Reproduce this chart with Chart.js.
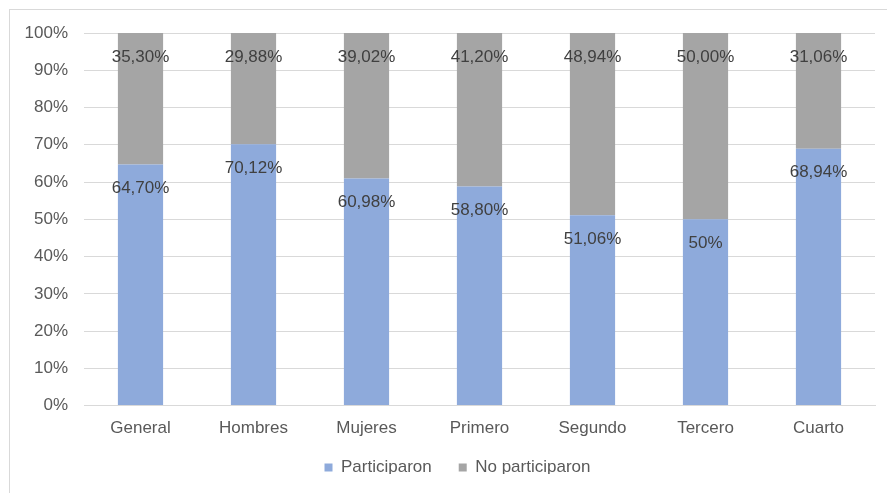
<!DOCTYPE html>
<html lang="es">
<head>
<meta charset="UTF-8">
<title>Participación</title>
<style>
  body { margin: 0; background: #fff; }
  #frame { position: absolute; left: 9px; top: 9px; width: 900px; height: 500px;
           border-left: 1px solid #d9d9d9; border-top: 1px solid #d9d9d9; }
  #chart { position: absolute; left: 0; top: 0; }
</style>
</head>
<body>
<div id="frame"></div>
<canvas id="chart" width="887" height="493"></canvas>
<script src="https://cdn.jsdelivr.net/npm/chart.js@4/dist/chart.umd.min.js"></script>
<script>
const categories = ["General", "Hombres", "Mujeres", "Primero", "Segundo", "Tercero", "Cuarto"];
const participaron = [64.70, 70.12, 60.98, 58.80, 51.06, 50.00, 68.94];
const noParticiparon = [35.30, 29.88, 39.02, 41.20, 48.94, 50.00, 31.06];
const participaronLabels = ["64,70%", "70,12%", "60,98%", "58,80%", "51,06%", "50%", "68,94%"];
const noParticiparonLabels = ["35,30%", "29,88%", "39,02%", "41,20%", "48,94%", "50,00%", "31,06%"];

const font = "'Liberation Sans', Arial, sans-serif";

// labels drawn just under the top of each segment, like Excel "inside end"
const barLabels = {
  id: "barLabels",
  afterDatasetsDraw(chart) {
    const ctx = chart.ctx;
    ctx.save();
    ctx.font = "17px " + font;
    ctx.fillStyle = "#404040";
    ctx.textAlign = "center";
    ctx.textBaseline = "middle";
    chart.data.datasets.forEach((ds, i) => {
      chart.getDatasetMeta(i).data.forEach((bar, j) => {
        ctx.fillText(ds.labelsText[j], bar.x, bar.y + 24);
      });
    });
    ctx.restore();
  }
};

// legend sits a bit tighter under the axis and a bit right of centre
const legendNudge = {
  id: "legendNudge",
  beforeLayout(chart) {
    const lg = chart.legend;
    if (lg && !lg.nudged) {
      const fit = lg.fit;
      lg.fit = function () { fit.call(this); this.height -= 12; };
      lg.nudged = true;
    }
  },
  afterLayout(chart) {
    const lg = chart.legend;
    lg.top -= 12; lg.bottom -= 12;
    lg.left += 20; lg.right += 20;
  }
};

new Chart("chart", {
  type: "bar",
  data: {
    labels: categories,
    datasets: [
      { label: "Participaron", data: participaron, labelsText: participaronLabels,
        backgroundColor: "#8eaadb", barPercentage: 0.8, categoryPercentage: 0.5 },
      { label: "No participaron", data: noParticiparon, labelsText: noParticiparonLabels,
        backgroundColor: "#a5a5a5", barPercentage: 0.8, categoryPercentage: 0.5 }
    ]
  },
  options: {
    responsive: false,
    animation: false,
    layout: { padding: { left: 0, right: 12, top: 33, bottom: 7 } },
    plugins: {
      tooltip: { enabled: false },
      legend: {
        position: "bottom",
        labels: { boxWidth: 8, boxHeight: 8, padding: 27, color: "#595959",
                  font: { family: font, size: 17 } }
      }
    },
    scales: {
      x: {
        stacked: true,
        grid: { display: false },
        border: { color: "#d9d9d9" },
        ticks: { color: "#595959", font: { family: font, size: 17 }, padding: 5 }
      },
      y: {
        stacked: true,
        min: 0, max: 100,
        afterFit(scale) { scale.width = 84; },
        grid: { color: "#d9d9d9", drawTicks: false },
        border: { display: false },
        ticks: { stepSize: 10, color: "#595959", padding: 16,
                 font: { family: font, size: 17 },
                 callback: v => v + "%" }
      }
    }
  },
  plugins: [barLabels, legendNudge]
});
</script>
</body>
</html>
